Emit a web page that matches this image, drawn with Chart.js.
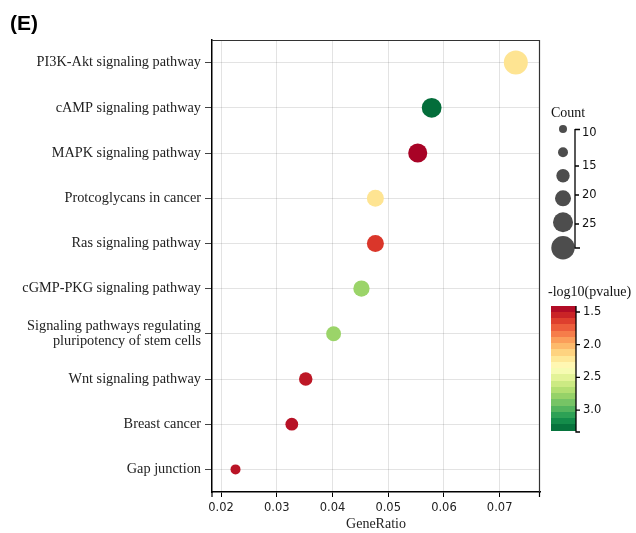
<!DOCTYPE html>
<html>
<head>
<meta charset="utf-8">
<script src="https://cdn.jsdelivr.net/npm/chart.js@4/dist/chart.umd.min.js"></script>
<style>
  html, body { margin: 0; padding: 0; background: #fff; }
  #wrap { width: 636px; height: 533px; position: relative; }
</style>
</head>
<body>
<div id="wrap"><canvas id="c" width="636" height="533"></canvas></div>
<script>
// ---------------- data ----------------
const categories = [
  "PI3K-Akt signaling pathway",
  "cAMP signaling pathway",
  "MAPK signaling pathway",
  "Protcoglycans in cancer",
  "Ras signaling pathway",
  "cGMP-PKG signaling pathway",
  ["Signaling pathways regulating", "pluripotency of stem cells"],
  "Wnt signaling pathway",
  "Breast cancer",
  "Gap junction"
];
const geneRatio = [0.0729, 0.0578, 0.0553, 0.0477, 0.0477, 0.0452, 0.0402, 0.0352, 0.0327, 0.0226];
const counts    = [29, 23, 22, 19, 19, 18, 16, 14, 13, 9];
const negLog10P = [2.2, 3.3, 1.42, 2.2, 1.62, 2.78, 2.78, 1.5, 1.48, 1.49];
const xTicks = [0.02, 0.03, 0.04, 0.05, 0.06, 0.07];
const countLegendTicks = [10, 15, 20, 25];
const colorbarTicks = [1.5, 2.0, 2.5, 3.0];

// ---------------- styles / scales ----------------
const P_MIN = 1.41, P_MAX = 3.32;
const RdYlGn = ["#a50026","#d73027","#f46d43","#fdae61","#fee08b","#ffffbf","#d9ef8b","#a6d96a","#66bd63","#1a9850","#006837"];
function hexToRgb(h){ return [parseInt(h.slice(1,3),16),parseInt(h.slice(3,5),16),parseInt(h.slice(5,7),16)]; }
function colorFor(v){
  let t = (v - P_MIN) / (P_MAX - P_MIN);
  t = Math.max(0, Math.min(1, t));
  const pos = t * (RdYlGn.length - 1);
  const i = Math.min(RdYlGn.length - 2, Math.floor(pos));
  const f = pos - i;
  const a = hexToRgb(RdYlGn[i]), b = hexToRgb(RdYlGn[i+1]);
  const c = a.map((x,k)=>Math.round(x + (b[k]-x)*f));
  return `rgb(${c[0]},${c[1]},${c[2]})`;
}
function radiusFor(c){ return 1.85 + 0.35 * c; }

const SERIF = "'Liberation Serif', 'Times New Roman', serif";
const SANS = "'DejaVu Sans', sans-serif";

const legendPlugin = {
  id: 'extras',
  afterDraw(chart) {
    const ctx = chart.ctx;
    const a = chart.chartArea;
    ctx.save();
    // top/right frame
    ctx.strokeStyle = '#333';
    ctx.lineWidth = 1.2;
    ctx.beginPath();
    ctx.moveTo(a.left, a.top + 0.5);
    ctx.lineTo(a.right - 0.5, a.top + 0.5);
    ctx.lineTo(a.right - 0.5, a.bottom);
    ctx.stroke();
    // end caps on x axis
    ctx.strokeStyle = '#000';
    ctx.lineWidth = 1.2;
    ctx.beginPath();
    ctx.moveTo(a.left, a.bottom); ctx.lineTo(a.left, a.bottom + 5);
    ctx.moveTo(a.right - 0.5, a.bottom); ctx.lineTo(a.right - 0.5, a.bottom + 5);
    ctx.stroke();

    // title
    ctx.fillStyle = '#000';
    ctx.font = "bold 21px 'Liberation Sans', Arial, sans-serif";
    ctx.textBaseline = 'alphabetic';
    ctx.textAlign = 'left';
    ctx.fillText('(E)', 10, 30);

    // ---- Count legend ----
    ctx.font = "14px " + SERIF;
    ctx.fillStyle = '#111';
    ctx.textBaseline = 'middle';
    ctx.fillText('Count', 551, 113);
    const legR = [4, 5, 6.7, 8, 10, 11.7];
    const legY = [129, 152.3, 175.7, 198.3, 222.3, 247.7];
    ctx.fillStyle = '#4d4d4d';
    legR.forEach((r, i) => {
      ctx.beginPath(); ctx.arc(563, legY[i], r, 0, Math.PI*2); ctx.fill();
    });
    const tickY = [131, 166, 195, 224];
    ctx.strokeStyle = '#000';
    ctx.lineWidth = 1.3;
    ctx.beginPath();
    ctx.moveTo(575, 129); ctx.lineTo(575, 248); ctx.lineTo(580, 248);
    ctx.moveTo(575, 129.5); ctx.lineTo(580, 129.5);
    tickY.slice(1).forEach(y => { ctx.moveTo(575, y); ctx.lineTo(579, y); });
    ctx.stroke();
    ctx.fillStyle = '#111';
    ctx.font = "11.5px " + SANS;
    countLegendTicks.forEach((t, i) => ctx.fillText(String(t), 582, tickY[i] + (i===0?2:0)));

    // ---- colour bar ----
    ctx.font = "14px " + SERIF;
    ctx.fillText('-log10(pvalue)', 548, 292);
    const top = 306, bot = 431, nb = 20;
    const pxPer = 65.4; // px per unit
    const valToY = v => 312 + (v - 1.5) * pxPer;
    for (let i = 0; i < nb; i++) {
      const v0 = P_MIN + (P_MAX - P_MIN) * i / nb;
      const v1 = P_MIN + (P_MAX - P_MIN) * (i + 1) / nb;
      ctx.fillStyle = colorFor((v0 + v1) / 2);
      const y0 = top + (bot - top) * i / nb, y1 = top + (bot - top) * (i + 1) / nb;
      ctx.fillRect(551, Math.floor(y0), 25, Math.ceil(y1) - Math.floor(y0));
    }
    ctx.strokeStyle = '#000';
    ctx.lineWidth = 1.3;
    ctx.beginPath();
    ctx.moveTo(576, top); ctx.lineTo(576, bot + 1); ctx.lineTo(580, bot + 1);
    colorbarTicks.forEach(v => { const y = valToY(v); ctx.moveTo(576, y); ctx.lineTo(580, y); });
    ctx.stroke();
    ctx.fillStyle = '#111';
    ctx.font = "11.5px " + SANS;
    colorbarTicks.forEach(v => ctx.fillText(v.toFixed(1), 583, valToY(v)));
    ctx.restore();
  }
};

new Chart(document.getElementById('c'), {
  type: 'scatter',
  data: {
    datasets: [{
      data: geneRatio.map((g, i) => ({ x: g, y: i })),
      pointRadius: ctx => radiusFor(counts[ctx.dataIndex]),
      pointHoverRadius: ctx => radiusFor(counts[ctx.dataIndex]),
      backgroundColor: ctx => colorFor(negLog10P[ctx.dataIndex]),
      borderWidth: 0,
      pointBorderWidth: 0
    }]
  },
  options: {
    responsive: false,
    animation: false,
    events: [],
    layout: { padding: { left: 0, right: 96, top: 40, bottom: 0 } },
    plugins: { legend: { display: false }, tooltip: { enabled: false } },
    scales: {
      x: {
        type: 'linear',
        min: 0.01838, max: 0.07724,
        afterBuildTicks: s => { s.ticks = xTicks.map(v => ({ value: v })); },
        afterFit: s => { s.height = 41; },
        grid: { color: 'rgba(0,0,0,0.11)', lineWidth: 1, tickColor: '#000', tickLength: 5, drawTicks: true },
        border: { display: true, color: '#000', width: 1.5 },
        ticks: { color: '#222', font: { family: SANS, size: 11.5 }, padding: 4,
                 callback: v => v.toFixed(2) },
        title: { display: true, text: 'GeneRatio', color: '#222',
                 font: { family: SERIF, size: 14 }, padding: { top: 0, bottom: 0 } }
      },
      y: {
        type: 'linear',
        reverse: true,
        min: -0.5, max: 9.5,
        afterBuildTicks: s => { s.ticks = categories.map((_, i) => ({ value: i })); },
        afterFit: s => { s.width = 212; },
        grid: { color: 'rgba(0,0,0,0.11)', lineWidth: 1, tickColor: '#444', tickLength: 7, drawTicks: true },
        border: { display: true, color: '#000', width: 1.5 },
        ticks: { color: '#222', font: { family: SERIF, size: 14.3, lineHeight: 1.0 }, padding: 4,
                 callback: v => categories[v] }
      }
    }
  },
  plugins: [legendPlugin]
});
</script>
</body>
</html>
